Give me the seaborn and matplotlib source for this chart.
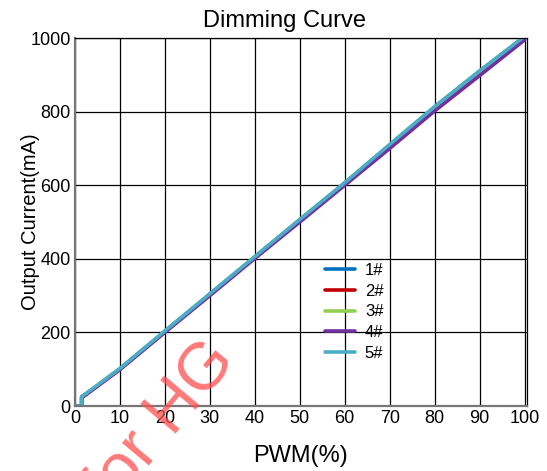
import pandas as pd
import numpy as np
import seaborn as sns
from matplotlib import pyplot as plt

sns.set_style("white")
plt.rcParams["font.family"] = ["Liberation Sans", "DejaVu Sans"]
plt.rcParams["text.color"] = "black"
plt.rcParams["axes.labelcolor"] = "black"
plt.rcParams["xtick.color"] = "black"
plt.rcParams["ytick.color"] = "black"

pwm = [0, 1.5, 1.5, 2.5, 10, 20, 30, 40, 50, 60, 70, 80, 90, 100]
s1 = [0, 0, 25, 33, 101, 203, 304, 405, 506, 606, 709, 812, 910, 1003]
s2 = [0, 0, 24, 32, 100, 202, 303, 404, 505, 605, 708, 811, 909, 1002]
s3 = [0, 0, 25, 33, 101, 203, 304, 405, 506, 606, 709, 812, 910, 1003]
s4 = [0, 0, 23, 31, 99, 200, 300, 401, 500, 600, 700, 802, 898, 995]
s5 = [0, 0, 26, 34, 102, 204, 305, 406, 507, 607, 711, 814, 911, 1005]
names = ["1#", "2#", "3#", "4#", "5#"]
colors = ["#0072BD", "#C00000", "#92D050", "#7030A0", "#4BACC6"]

rows = []
for n, s in zip(names, [s1, s2, s3, s4, s5]):
    for x, y in zip(pwm, s):
        rows.append({"PWM": x, "Current": y, "Sample": n})
df = pd.DataFrame(rows)

fig = plt.figure(figsize=(5.47, 4.71), dpi=100)
ax = fig.add_axes([0.137, 0.138, 0.826, 0.781])
sns.lineplot(data=df, x="PWM", y="Current", hue="Sample", palette=colors,
             linewidth=2.6, ax=ax, estimator=None, sort=False)

ax.set_xlim(0, 100.5)
ax.set_ylim(0, 1000)
ax.set_xticks(range(0, 101, 10))
ax.set_yticks(range(0, 1001, 200))
ax.grid(True, color="black", linewidth=0.9)
ax.set_axisbelow(True)
ax.tick_params(length=0, labelsize=13, pad=3)
for sp in ax.spines.values():
    sp.set_color("black")
    sp.set_linewidth(0.9)
ax.spines["left"].set_color("#777777")
ax.spines["left"].set_linewidth(1.6)
ax.spines["bottom"].set_color("#777777")
ax.spines["bottom"].set_linewidth(1.6)

fig.text(0.521, 0.943, "Dimming Curve", fontsize=17, ha="center", va="baseline")
ax.set_xlabel("PWM(%)", fontsize=17, labelpad=13)
ax.set_ylabel("Output Current(mA)", fontsize=14.5, labelpad=-7)

ax.legend(loc="upper left", bbox_to_anchor=(0.52, 0.43), frameon=False,
          fontsize=12, handlelength=1.8, handletextpad=0.6, labelspacing=0.35)

fig.text(0.293, 0.098, "for HG", color=(1, 0.3, 0.3), alpha=0.75,
         fontsize=48, rotation=50, ha="center", va="center")

fig.savefig("out.png", dpi=100)
